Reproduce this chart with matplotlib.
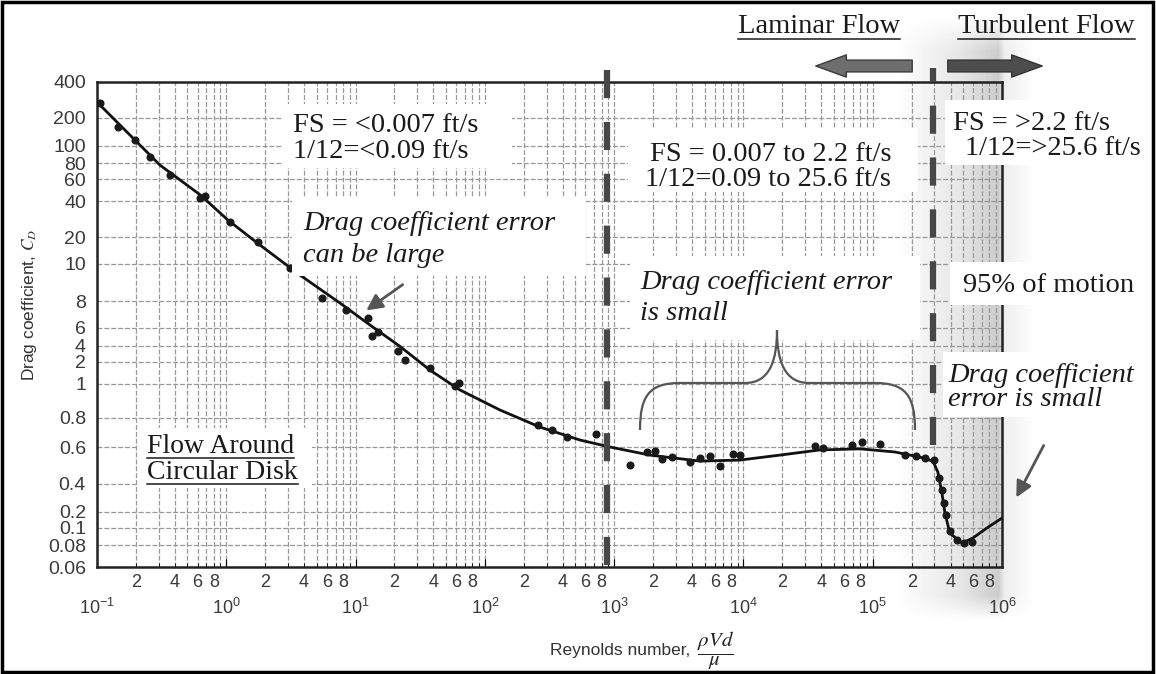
import matplotlib
matplotlib.use('Agg')
import matplotlib.pyplot as plt
import numpy as np
from matplotlib.patches import Rectangle, PathPatch, FancyArrowPatch
from matplotlib.path import Path
from matplotlib.lines import Line2D
from matplotlib.ticker import FixedLocator, FuncFormatter, LogLocator

# Drag curve for a circular disk (Reynolds number, drag coefficient)
re_curve = [0.1, 0.18, 0.307, 0.63, 1.03, 1.82, 3.72, 7.57, 12.9, 22, 37.6, 64, 131, 267, 544, 928,
            1890, 4610, 9400, 19150, 39000, 79600, 148600, 231700, 292000, 319000, 343000,
            362000, 395000, 490000, 596000, 764000, 1e6]
cd_curve = [272, 131, 77, 44.7, 27.7, 16.3, 9.35, 7.83, 6.2, 3.95, 1.55, 0.962, 0.843, 0.731, 0.643, 0.6,
            0.549, 0.514, 0.520, 0.549, 0.581, 0.588, 0.568, 0.537, 0.514, 0.456, 0.32,
            0.191, 0.0935, 0.082, 0.0877, 0.1, 0.154]

# measured points
re_pts = [0.105, 0.145, 0.197, 0.257, 0.367, 0.63, 0.684, 1.07, 1.76, 3.11,
          3.85, 5.5, 8.43, 12.5, 13.4, 14.9, 21.3, 24.1, 37.6, 58.7,
          63, 258, 330, 432, 723, 1325, 1795, 2070, 2340, 2800,
          3860, 4600, 5510, 6580, 8300, 9400, 35700, 41000, 69000, 82600,
          113700, 177500, 215000, 253000, 300000, 325000, 343000, 355000, 370000, 395000,
          450000, 510000, 585000]
cd_pts = [267, 160, 116, 86.5, 64.4, 42.3, 43.9, 26.7, 17.6, 9.76,
          9.52, 8.15, 7.26, 6.67, 5.01, 5.48, 3.22, 2.18, 1.66, 0.99,
          1.03, 0.746, 0.71, 0.662, 0.683, 0.492, 0.568, 0.573, 0.526, 0.537,
          0.509, 0.530, 0.543, 0.487, 0.556, 0.55, 0.605, 0.595, 0.612, 0.63,
          0.618, 0.549, 0.543, 0.53, 0.52, 0.427, 0.345, 0.25, 0.176, 0.096,
          0.0855, 0.082, 0.0835]

# y axis of the printed chart is not a clean log scale: tick value -> ruler position
y_ticks = [400, 200, 100, 80, 60, 40, 20, 10, 8, 6, 4, 2, 1, 0.8, 0.6, 0.4, 0.2, 0.1, 0.08, 0.06]
y_tick_labels = ['400', '200', '100', '80', '60', '40', '20', '10', '8', '6', '4', '2', '1',
                 '0.8', '0.6', '0.4', '0.2', '0.1', '0.08', '0.06']
y_ruler = [82, 118, 146, 163, 179, 201, 237, 264, 301, 328, 346, 362, 384, 418, 447, 484, 512, 528, 545, 567]

# the two flow regime boundaries
re_laminar_edge = 880
re_turbulent_edge = 292000

W, H = 1156, 674
plt.rcParams['font.family'] = ['Liberation Sans', 'DejaVu Sans']
plt.rcParams['mathtext.fontset'] = 'stix'

lv = np.log10(y_ticks)[::-1]
lp = -np.array(y_ruler, float)[::-1]


def fwd(v):
    v = np.clip(np.asarray(v, float), 1e-9, None)
    return np.interp(np.log10(v), lv, lp)


def inv(p):
    return 10 ** np.interp(np.asarray(p, float), lp, lv)


def fx(x):
    return x / W


def fy(y):
    return 1 - y / H


fig = plt.figure(figsize=(W / 100, H / 100), dpi=100)
fig.patch.set_facecolor('white')

# scanned page shadow on the right
bg = fig.add_axes([0, 0, 1, 1], zorder=-1)
bg.axis('off')
xs = np.arange(W)
ys = np.arange(H)
dx = np.interp(xs, [895, 960, 998, 1004, 1035], [0, 0.10, 0.20, 0.07, 0])
dy = np.interp(ys, [15, 50, 595, 620], [0, 1, 1, 0])
shade = 1 - np.outer(dy, dx)
bg.imshow(shade, cmap='gray', vmin=0, vmax=1, extent=[0, W, H, 0], aspect='auto')
bg.set_xlim(0, W)
bg.set_ylim(H, 0)

ax = fig.add_axes([fx(97), fy(567), (1002 - 97) / W, (567 - 82) / H])
ax.patch.set_alpha(0)
ax.set_xscale('log')
ax.set_yscale('function', functions=(fwd, inv))
ax.set_xlim(0.1, 1e6)
ax.set_ylim(0.06, 400)

ax.plot(re_curve, cd_curve, color='#111111', lw=2.0, zorder=4)
ax.plot(re_pts, cd_pts, 'o', color='#1a1a1a', ms=4.8, zorder=4)

# y ticks
ax.yaxis.set_major_locator(FixedLocator(y_ticks))
ax.set_yticklabels(y_tick_labels)
ax.yaxis.set_minor_locator(FixedLocator([100, 10, 1, 0.1]))
ax.tick_params(axis='y', which='major', length=0, pad=8, labelsize=14, labelcolor='#3a3a3a')
ax.tick_params(axis='y', which='minor', direction='in', length=12, width=2, color='#333333')

# x ticks
ax.xaxis.set_major_locator(LogLocator(base=10, numticks=20))
ax.xaxis.set_minor_locator(LogLocator(base=10, subs=np.arange(2, 10), numticks=20))


def minor_fmt(v, pos):
    m = int(round(v / 10 ** np.floor(np.log10(v) + 1e-9)))
    return str(m) if m in (2, 4, 6, 8) else ''


ax.xaxis.set_minor_formatter(FuncFormatter(minor_fmt))
ax.tick_params(axis='x', which='major', direction='in', length=6, pad=22, labelsize=13, labelcolor='#3a3a3a')
ax.tick_params(axis='x', which='minor', direction='in', length=3, pad=5, labelsize=13, labelcolor='#3a3a3a')

ax.grid(True, which='both', axis='x', color='#999999', lw=0.9, ls=(0, (4, 1.5)))
ax.grid(True, which='major', axis='y', color='#999999', lw=0.9, ls=(0, (4, 1.5)))
for s in ax.spines.values():
    s.set_linewidth(1.8)
    s.set_color('#222222')

# regime boundaries
ax.axvline(re_laminar_edge, ymin=(567 - 565) / 485, ymax=(567 - 55) / 485, clip_on=False,
           color='#474747', lw=4.5, ls=(0, (4.5, 3.8)), zorder=5)
ax.axvline(re_turbulent_edge, ymin=(567 - 445) / 485, ymax=(567 - 68) / 485, clip_on=False,
           color='#474747', lw=4.5, ls=(0, (4.5, 3.8)), zorder=5)

# axis labels
fig.text(fx(30), fy(305), 'Drag coefficient, $C_D$', rotation=90, ha='center', va='center',
         fontsize=12.5, color='#333333')
fig.text(fx(690), fy(650), 'Reynolds number,', ha='right', va='center', fontsize=12.5, color='#333333')
fig.text(fx(697), fy(651), r'$\dfrac{\rho Vd}{\mu}$', ha='left', va='center', fontsize=15, color='#222222')


def box(x0, y0, x1, y1):
    fig.add_artist(Rectangle((fx(x0), fy(y1)), (x1 - x0) / W, (y1 - y0) / H, transform=fig.transFigure,
                             facecolor='white', edgecolor='none', zorder=2))


def label(x, y, s, size=20.5, italic=False, ha='left'):
    return fig.text(fx(x), fy(y), s, family=['Liberation Serif', 'DejaVu Serif'], fontsize=size,
                    style='italic' if italic else 'normal', ha=ha, va='baseline', color='#1a1a1a', zorder=4)


box(282, 104, 512, 168)
label(293, 132, 'FS = <0.007 ft/s')
label(293, 158, '1/12=<0.09 ft/s')

box(292, 197, 586, 276)
label(303, 230, 'Drag coefficient error', italic=True)
label(303, 262, 'can be large', italic=True)

box(628, 128, 918, 192)
label(650, 161, 'FS = 0.007 to 2.2 ft/s')
label(645, 186, '1/12=0.09 to 25.6 ft/s')

box(630, 256, 920, 340)
label(640, 289, 'Drag coefficient error', italic=True)
label(640, 320, 'is small', italic=True)

box(945, 100, 1150, 165)
label(953, 130, 'FS = >2.2 ft/s')
label(965, 155, '1/12=>25.6 ft/s')

box(950, 262, 1150, 305)
label(963, 292, '95% of motion')

box(943, 352, 1150, 417)
label(948, 382, 'Drag coefficient', italic=True)
label(948, 406, 'error is small', italic=True)

box(138, 428, 312, 488)
t1 = label(147, 453, 'Flow Around', size=20)
t2 = label(147, 479, 'Circular Disk', size=20)

t3 = label(738, 33, 'Laminar Flow')
t4 = label(958, 33, 'Turbulent Flow')

fig.canvas.draw()
r = fig.canvas.get_renderer()
for t, uy in [(t1, 458), (t2, 484), (t3, 39), (t4, 39)]:
    bb = t.get_window_extent(r)
    fig.add_artist(Line2D([bb.x0 / W, bb.x1 / W], [fy(uy), fy(uy)], transform=fig.transFigure,
                          color='#1a1a1a', lw=1.1, zorder=4))

# flow direction arrows
fig.add_artist(FancyArrowPatch((fx(915), fy(66)), (fx(813), fy(66)), transform=fig.transFigure,
                               arrowstyle='simple,head_length=22,head_width=16,tail_width=8.5',
                               mutation_scale=1, facecolor='#6e6e6e', edgecolor='#3a3a3a', lw=1, zorder=4))
fig.add_artist(FancyArrowPatch((fx(945), fy(66)), (fx(1045), fy(66)), transform=fig.transFigure,
                               arrowstyle='simple,head_length=22,head_width=16,tail_width=8.5',
                               mutation_scale=1, facecolor='#4d4d4d', edgecolor='#333333', lw=1, zorder=4))

# pointer arrows
for p0, p1 in [((405, 283), (364, 312)), ((1045, 443), (1015, 500))]:
    fig.add_artist(FancyArrowPatch((fx(p0[0]), fy(p0[1])), (fx(p1[0]), fy(p1[1])), transform=fig.transFigure,
                                   arrowstyle='-|>,head_length=0.6,head_width=0.3', mutation_scale=16,
                                   color='#555555', lw=2, zorder=4))

# brace over the small-error region
bx = [640, 640, 650, 680, 745, 770, 777, 777, 777, 784, 809, 875, 905, 915, 915]
by = [430, 395, 383, 383, 383, 383, 360, 330, 360, 383, 383, 383, 383, 395, 430]
codes = [Path.MOVETO, Path.CURVE4, Path.CURVE4, Path.CURVE4, Path.LINETO, Path.CURVE4, Path.CURVE4, Path.CURVE4,
         Path.CURVE4, Path.CURVE4, Path.CURVE4, Path.LINETO, Path.CURVE4, Path.CURVE4, Path.CURVE4]
brace = Path([(fx(a), fy(b)) for a, b in zip(bx, by)], codes)
fig.add_artist(PathPatch(brace, transform=fig.transFigure, facecolor='none', edgecolor='#555555', lw=1.6, zorder=4))

# page frame
fig.add_artist(Rectangle((fx(2), fy(672)), 1151 / W, 670 / H, transform=fig.transFigure,
                         fill=False, edgecolor='black', lw=2.5, zorder=6))

fig.savefig('out.png', dpi=100)
